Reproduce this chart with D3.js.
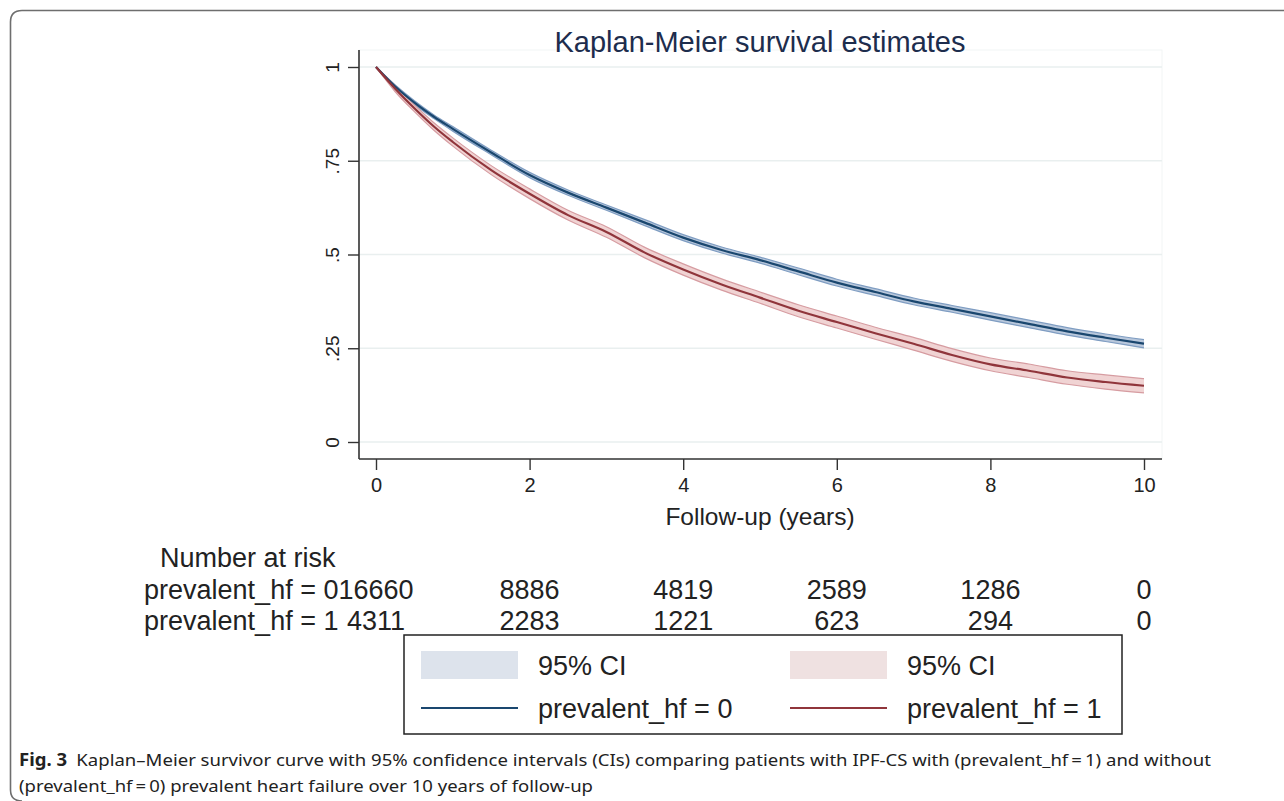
<!DOCTYPE html>
<html>
<head>
<meta charset="utf-8">
<script src="https://cdn.jsdelivr.net/npm/d3@7"></script>
<style>
  html, body { margin: 0; padding: 0; background: #fff; }
  svg { display: block; }
</style>
</head>
<body>
<div id="chart"></div>
<script>
// follow-up time (years) and KM estimates
const timePoints = [0, 0.25, 0.5, 0.75, 1, 1.5, 2, 2.5, 3, 3.5, 4, 4.5, 5, 5.5, 6, 6.5, 7, 7.5, 8, 8.5, 9, 9.5, 10]

const survHf0 = [1, 0.948, 0.905, 0.868, 0.835, 0.772, 0.712, 0.665, 0.625, 0.585, 0.545, 0.512, 0.485, 0.455, 0.425, 0.40, 0.375, 0.355, 0.335, 0.315, 0.295, 0.278, 0.262]
const lowerHf0 = [1, 0.944, 0.900, 0.863, 0.829, 0.766, 0.705, 0.658, 0.618, 0.577, 0.537, 0.504, 0.477, 0.446, 0.416, 0.391, 0.366, 0.346, 0.325, 0.305, 0.285, 0.268, 0.251]
const upperHf0 = [1, 0.952, 0.910, 0.873, 0.841, 0.778, 0.719, 0.672, 0.632, 0.593, 0.553, 0.520, 0.493, 0.464, 0.434, 0.409, 0.384, 0.364, 0.345, 0.325, 0.305, 0.288, 0.273]

const survHf1 = [1, 0.942, 0.89, 0.842, 0.80, 0.725, 0.662, 0.605, 0.56, 0.505, 0.46, 0.42, 0.385, 0.35, 0.32, 0.29, 0.262, 0.232, 0.207, 0.19, 0.172, 0.16, 0.15]
const lowerHf1 = [1, 0.934, 0.881, 0.832, 0.789, 0.713, 0.649, 0.592, 0.546, 0.491, 0.445, 0.405, 0.370, 0.334, 0.304, 0.274, 0.245, 0.215, 0.190, 0.172, 0.154, 0.141, 0.131]
const upperHf1 = [1, 0.950, 0.899, 0.852, 0.811, 0.737, 0.675, 0.618, 0.574, 0.519, 0.475, 0.435, 0.400, 0.366, 0.336, 0.306, 0.279, 0.249, 0.224, 0.208, 0.190, 0.179, 0.169]

const xTicks = [0, 2, 4, 6, 8, 10]
const yTicks = [0, 0.25, 0.5, 0.75, 1]
const yTickLabels = ["0", ".25", ".5", ".75", "1"]

const riskTimes = [0, 2, 4, 6, 8, 10]
const riskHf0 = [16660, 8886, 4819, 2589, 1286, 0]
const riskHf1 = [4311, 2283, 1221, 623, 294, 0]
const groupLabels = ["prevalent_hf = 0", "prevalent_hf = 1"]

const titleText = "Kaplan-Meier survival estimates"
const xTitle = "Follow-up (years)"
const riskTitle = "Number at risk"
const legendCi = "95% CI"
const captionBold = "Fig. 3"
const captionLine1 = "Kaplan–Meier survivor curve with 95% confidence intervals (CIs) comparing patients with IPF-CS with (prevalent_hf\u2009=\u20091) and without"
const captionLine2 = "(prevalent_hf\u2009=\u20090) prevalent heart failure over 10 years of follow-up"

const colors = {
	line0: "#1a476f",
	line1: "#90353b",
	band0: "#b9c8dc",
	band0Edge: "#7f9dc2",
	band1: "#f0d3d3",
	band1Edge: "#d69ca1",
	swatch0: "#dde3ec",
	swatch1: "#efe1e1",
	grid: "#e9efef",
	text: "#222"
}

const font = "'Liberation Sans', Arial, sans-serif"

const W = 1284, H = 801

const svg = d3.select("#chart")
	.append("svg")
	.attr("width", W)
	.attr("height", H)

// figure frame (rounded on the left)
svg.append("path")
	.attr("d", "M1284,10.5 H22 Q10.5,10.5 10.5,22 V790 Q10.5,801 22,801")
	.attr("fill", "none")
	.attr("stroke", "#6e6e6e")
	.attr("stroke-width", 1.6)

const x = d3.scaleLinear().domain([0, 10]).range([376, 1144])
const y = d3.scaleLinear().domain([0, 1]).range([442, 67])

const plotLeft = 359, plotRight = 1162, plotTop = 50, plotBottom = 459

// faint plot region outline + grid
svg.append("rect")
	.attr("x", plotLeft)
	.attr("y", plotTop)
	.attr("width", plotRight - plotLeft)
	.attr("height", plotBottom - plotTop)
	.attr("fill", "none")
	.attr("stroke", "#f2f5f5")

svg.selectAll(".grid")
	.data(yTicks)
	.enter()
	.append("line")
	.attr("class", "grid")
	.attr("x1", plotLeft + 1)
	.attr("x2", plotRight)
	.attr("y1", d => y(d))
	.attr("y2", d => y(d))
	.attr("stroke", colors.grid)
	.attr("stroke-width", 1.5)

// title
svg.append("text")
	.attr("x", 760)
	.attr("y", 52)
	.attr("text-anchor", "middle")
	.style("font-family", font)
	.style("font-size", "29px")
	.attr("fill", "#1d2d4d")
	.text(titleText)

// axes
const yAxis = d3.axisLeft(y)
	.tickValues(yTicks)
	.tickFormat((d, i) => yTickLabels[i])
	.tickSize(11)
	.tickPadding(8)

const gy = svg.append("g")
	.attr("transform", `translate(${plotLeft},0)`)
	.call(yAxis)
gy.select(".domain").attr("d", `M0,${plotTop}V${plotBottom}`).attr("stroke", "#333").attr("stroke-width", 1.6)
gy.selectAll(".tick line").attr("stroke", "#333").attr("stroke-width", 1.4)
gy.selectAll(".tick text")
	.style("font-family", font)
	.style("font-size", "19px")
	.attr("fill", colors.text)
	.attr("x", 0)
	.attr("dy", 0)
	.attr("text-anchor", "middle")
	.attr("transform", "translate(-20,0) rotate(-90)")

const xAxis = d3.axisBottom(x)
	.tickValues(xTicks)
	.tickFormat(d3.format("d"))
	.tickSize(11)
	.tickPadding(8)

const gx = svg.append("g")
	.attr("transform", `translate(0,${plotBottom})`)
	.call(xAxis)
gx.select(".domain").attr("d", `M${plotLeft},0H${plotRight}`).attr("stroke", "#333").attr("stroke-width", 1.6)
gx.selectAll(".tick line").attr("stroke", "#333").attr("stroke-width", 1.4)
gx.selectAll(".tick text")
	.style("font-family", font)
	.style("font-size", "20px")
	.attr("fill", colors.text)

svg.append("text")
	.attr("x", 760)
	.attr("y", 525)
	.attr("text-anchor", "middle")
	.style("font-family", font)
	.style("font-size", "24.5px")
	.attr("fill", colors.text)
	.text(xTitle)

// survival curves with CI bands
const series = [
	{ surv: survHf0, lo: lowerHf0, hi: upperHf0, line: colors.line0, band: colors.band0, edge: colors.band0Edge },
	{ surv: survHf1, lo: lowerHf1, hi: upperHf1, line: colors.line1, band: colors.band1, edge: colors.band1Edge }
]

const bandArea = d3.area()
	.x(d => x(d.t))
	.y0(d => y(d.lo))
	.y1(d => y(d.hi))
	.curve(d3.curveMonotoneX)

const curveLine = d3.line()
	.x(d => x(d.t))
	.y(d => y(d.v))
	.curve(d3.curveMonotoneX)

series.forEach(s => {
	const pts = timePoints.map((t, i) => ({ t, lo: s.lo[i], hi: s.hi[i] }))
	svg.append("path")
		.attr("d", bandArea(pts))
		.attr("fill", s.band)
	;["lo", "hi"].forEach(k => {
		svg.append("path")
			.attr("d", curveLine(pts.map(p => ({ t: p.t, v: p[k] }))))
			.attr("fill", "none")
			.attr("stroke", s.edge)
			.attr("stroke-width", 1.2)
	})
})

series.forEach(s => {
	const pts = timePoints.map((t, i) => ({ t, v: s.surv[i] }))
	svg.append("path")
		.attr("d", curveLine(pts))
		.attr("fill", "none")
		.attr("stroke", s.line)
		.attr("stroke-width", 2.2)
})

// number at risk table
const riskFont = "27px"
svg.append("text")
	.attr("x", 160)
	.attr("y", 567)
	.style("font-family", font)
	.style("font-size", riskFont)
	.attr("fill", colors.text)
	.text(riskTitle)

const riskRows = [riskHf0, riskHf1]
const rowY = [599, 630]

// half width of the widest first-column count, to right-align the row labels
const probe = svg.append("text")
	.style("font-family", font)
	.style("font-size", riskFont)
	.text(String(d3.max(riskRows, r => r[0])))
const firstColHalf = probe.node().getComputedTextLength() / 2
probe.remove()

riskRows.forEach((row, r) => {
	svg.append("text")
		.attr("x", x(riskTimes[0]) - firstColHalf)
		.attr("y", rowY[r])
		.attr("text-anchor", "end")
		.style("font-family", font)
		.style("font-size", riskFont)
		.attr("fill", colors.text)
		.text(groupLabels[r])

	svg.selectAll(".risk" + r)
		.data(row)
		.enter()
		.append("text")
		.attr("class", "risk" + r)
		.attr("x", (d, i) => x(riskTimes[i]))
		.attr("y", rowY[r])
		.attr("text-anchor", "middle")
		.style("font-family", font)
		.style("font-size", riskFont)
		.attr("fill", colors.text)
		.text(d => d)
})

// legend
const legend = svg.append("g")
legend.append("rect")
	.attr("x", 404)
	.attr("y", 635)
	.attr("width", 718)
	.attr("height", 99)
	.attr("fill", "#fff")
	.attr("stroke", "#222")
	.attr("stroke-width", 1.5)

const legendItems = [
	{ col: 0, row: 0, kind: "band", color: colors.swatch0, label: legendCi },
	{ col: 1, row: 0, kind: "band", color: colors.swatch1, label: legendCi },
	{ col: 0, row: 1, kind: "line", color: colors.line0, label: groupLabels[0] },
	{ col: 1, row: 1, kind: "line", color: colors.line1, label: groupLabels[1] }
]
const colX = [421, 790]
const rowCy = [665, 708]

legendItems.forEach(d => {
	const gx0 = colX[d.col], cy = rowCy[d.row]
	if (d.kind === "band") {
		legend.append("rect")
			.attr("x", gx0)
			.attr("y", cy - 14)
			.attr("width", 97)
			.attr("height", 28)
			.attr("fill", d.color)
	} else {
		legend.append("line")
			.attr("x1", gx0)
			.attr("x2", gx0 + 97)
			.attr("y1", cy)
			.attr("y2", cy)
			.attr("stroke", d.color)
			.attr("stroke-width", 2.2)
	}
	legend.append("text")
		.attr("x", gx0 + 117)
		.attr("y", cy + 10)
		.style("font-family", font)
		.style("font-size", "27px")
		.attr("fill", colors.text)
		.text(d.label)
})

// caption
const cap1 = svg.append("text")
	.attr("x", 19)
	.attr("y", 766)
	.attr("textLength", 1192)
	.attr("lengthAdjust", "spacingAndGlyphs")
	.style("font-family", "'Noto Sans', 'Open Sans', sans-serif")
	.style("font-size", "17px")
	.attr("fill", "#222")
cap1.append("tspan").style("font-weight", "bold").text(captionBold + "\u2002")
cap1.append("tspan").text(captionLine1)

svg.append("text")
	.attr("x", 19)
	.attr("y", 792)
	.attr("textLength", 574)
	.attr("lengthAdjust", "spacingAndGlyphs")
	.style("font-family", "'Noto Sans', 'Open Sans', sans-serif")
	.style("font-size", "17px")
	.attr("fill", "#222")
	.text(captionLine2)
</script>
</body>
</html>
